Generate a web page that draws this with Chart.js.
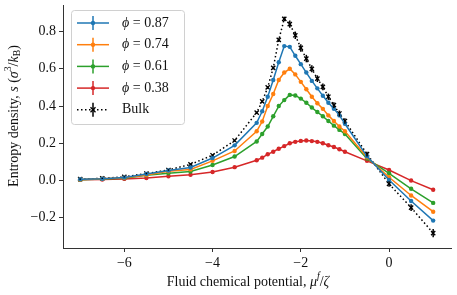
<!DOCTYPE html>
<html>
<head>
<meta charset="utf-8">
<script src="https://cdn.jsdelivr.net/npm/chart.js@4.4.0/dist/chart.umd.min.js"></script>
<style>
  html, body { margin: 0; padding: 0; background: #fff; }
  #contenedor { width: 457px; height: 295px; }
</style>
</head>
<body>
<div id="contenedor"><canvas id="grafico"></canvas></div>
<script>
// Datos
const potencial = [-7, -6.5, -6, -5.5, -5, -4.5, -4, -3.5, -3, -2.875, -2.75, -2.625, -2.5, -2.375, -2.25, -2.125,
  -2, -1.875, -1.75, -1.625, -1.5, -1.375, -1.25, -1.125, -1, -0.5, 0, 0.5, 1];

const phi087 = [0.007, 0.01, 0.017, 0.035, 0.054, 0.07, 0.121, 0.189, 0.31, 0.372, 0.45, 0.54, 0.635, 0.722, 0.718, 0.67,
  0.625, 0.58, 0.535, 0.495, 0.455, 0.418, 0.385, 0.35, 0.305, 0.13, 0.003, -0.11, -0.215];
const phi074 = [0.006, 0.01, 0.015, 0.03, 0.05, 0.06, 0.106, 0.159, 0.265, 0.317, 0.40, 0.465, 0.54, 0.58, 0.60, 0.57,
  0.53, 0.49, 0.45, 0.415, 0.385, 0.35, 0.32, 0.29, 0.265, 0.125, 0.018, -0.08, -0.167];
const phi061 = [0.005, 0.009, 0.013, 0.028, 0.039, 0.049, 0.084, 0.129, 0.21, 0.25, 0.29, 0.345, 0.40, 0.432, 0.46, 0.457,
  0.44, 0.418, 0.392, 0.368, 0.345, 0.32, 0.295, 0.272, 0.25, 0.118, 0.039, -0.044, -0.12];
const phi038 = [0.004, 0.006, 0.009, 0.014, 0.023, 0.031, 0.046, 0.072, 0.109, 0.123, 0.141, 0.155, 0.171, 0.185, 0.2, 0.208,
  0.213, 0.215, 0.212, 0.208, 0.2, 0.19, 0.18, 0.168, 0.155, 0.106, 0.057, 0.0, -0.049];
const bulk = [0.008, 0.012, 0.02, 0.038, 0.057, 0.087, 0.136, 0.215, 0.365, 0.425, 0.50, 0.605, 0.755, 0.868, 0.84, 0.78,
  0.712, 0.655, 0.60, 0.547, 0.503, 0.45, 0.405, 0.36, 0.32, 0.142, -0.018, -0.145, -0.282];
const errBulk = [0.003, 0.003, 0.003, 0.004, 0.004, 0.004, 0.005, 0.005, 0.006, 0.006, 0.007, 0.008, 0.009, 0.012, 0.02, 0.02,
  0.02, 0.02, 0.019, 0.018, 0.018, 0.017, 0.016, 0.016, 0.015, 0.013, 0.015, 0.018, 0.022];

const etiquetas = ['0.87', '0.74', '0.61', '0.38'];
const colores = ['#1f77b4', '#ff7f0e', '#2ca02c', '#d62728'];
const ticksX = [-6, -4, -2, 0];
const ticksY = [-0.2, 0, 0.2, 0.4, 0.6, 0.8];

const fuente = '"Liberation Serif", "Times New Roman", serif';
const menos = v => (v < 0 ? '\u2212' : '') + Math.abs(v);

const puntos = serie => potencial.map((x, i) => ({x: x, y: serie[i]}));

const series = [phi087, phi074, phi061, phi038].map((serie, i) => ({
  label: 'ϕ = ' + etiquetas[i],
  data: puntos(serie),
  borderColor: colores[i],
  backgroundColor: colores[i],
  borderWidth: 1.5,
  pointRadius: 2.2,
  pointHoverRadius: 2.2,
  pointBorderWidth: 0,
  showLine: true,
  tension: 0
}));

series.push({
  label: 'Bulk',
  data: puntos(bulk),
  errores: errBulk,
  borderColor: '#000',
  backgroundColor: '#000',
  borderWidth: 1.5,
  borderDash: [1.5, 2.5],
  pointStyle: 'crossRot',
  pointRadius: 3,
  pointBorderWidth: 1.3,
  showLine: true,
  tension: 0
});

// Barras de error verticales
const barrasError = {
  id: 'barrasError',
  afterDatasetsDraw(chart) {
    const ctx = chart.ctx;
    const sx = chart.scales.x, sy = chart.scales.y;
    chart.data.datasets.forEach(ds => {
      if (!ds.errores) return;
      ctx.save();
      ctx.strokeStyle = ds.borderColor;
      ctx.lineWidth = 1.5;
      ds.data.forEach((p, i) => {
        const px = sx.getPixelForValue(p.x);
        ctx.beginPath();
        ctx.moveTo(px, sy.getPixelForValue(p.y - ds.errores[i]));
        ctx.lineTo(px, sy.getPixelForValue(p.y + ds.errores[i]));
        ctx.stroke();
      });
      ctx.restore();
    });
  }
};

// Dibuja texto con partes en cursiva, superindice o subindice
function textoMixto(ctx, partes, x, y, tam) {
  let ancho = 0;
  const medidas = partes.map(p => {
    const t = p.sup || p.sub ? tam * 0.7 : tam;
    ctx.font = (p.it ? 'italic ' : '') + t + 'px ' + fuente;
    const w = ctx.measureText(p.t).width;
    ancho += w;
    return {t, w};
  });
  let cx = x - ancho / 2;
  partes.forEach((p, i) => {
    ctx.font = (p.it ? 'italic ' : '') + medidas[i].t + 'px ' + fuente;
    const dy = p.sup ? -tam * 0.38 : (p.sub ? tam * 0.22 : 0);
    ctx.fillText(p.t, cx, y + dy);
    cx += medidas[i].w;
  });
}

// Titulos de los ejes y leyenda
const titulosYLeyenda = {
  id: 'titulosYLeyenda',
  afterDraw(chart) {
    const ctx = chart.ctx;
    ctx.save();
    ctx.fillStyle = '#111';
    ctx.textBaseline = 'middle';
    ctx.textAlign = 'left';
    textoMixto(ctx, [
      {t: 'Fluid chemical potential, '}, {t: 'μ', it: true}, {t: 'f', it: true, sup: true}, {t: '/', it: false}, {t: 'ζ', it: true}
    ], 248, 282, 14);

    ctx.save();
    ctx.translate(14, 116);
    ctx.rotate(-Math.PI / 2);
    textoMixto(ctx, [
      {t: 'Entropy density, '}, {t: 's', it: true}, {t: ' ('}, {t: 'σ', it: true}, {t: '3', sup: true},
      {t: '/'}, {t: 'k', it: true}, {t: 'B', sub: true}, {t: ')'}
    ], 0, 0, 14);
    ctx.restore();

    // Leyenda
    const x0 = 71, y0 = 10, w = 113, h = 114;
    ctx.beginPath();
    ctx.roundRect(x0 + 0.5, y0 + 0.5, w, h, 3);
    ctx.fillStyle = 'rgba(255,255,255,0.8)';
    ctx.fill();
    ctx.strokeStyle = '#d0d0d0';
    ctx.lineWidth = 1;
    ctx.stroke();

    chart.data.datasets.forEach((ds, i) => {
      const yy = 23 + i * 21.7;
      ctx.strokeStyle = ds.borderColor;
      ctx.fillStyle = ds.borderColor;
      ctx.lineWidth = 1.5;
      ctx.setLineDash(ds.borderDash || []);
      ctx.beginPath();
      ctx.moveTo(77, yy);
      ctx.lineTo(109, yy);
      ctx.stroke();
      ctx.setLineDash([]);
      ctx.beginPath();
      ctx.moveTo(93, yy - 7);
      ctx.lineTo(93, yy + 7);
      ctx.stroke();
      if (ds.pointStyle === 'crossRot') {
        ctx.lineWidth = 1.3;
        ctx.beginPath();
        ctx.moveTo(90.5, yy - 2.5); ctx.lineTo(95.5, yy + 2.5);
        ctx.moveTo(95.5, yy - 2.5); ctx.lineTo(90.5, yy + 2.5);
        ctx.stroke();
        ctx.fillStyle = '#111';
        ctx.font = '14px ' + fuente;
        ctx.fillText('Bulk', 122, yy);
      } else {
        ctx.beginPath();
        ctx.arc(93, yy, 2.2, 0, Math.PI * 2);
        ctx.fill();
        ctx.fillStyle = '#111';
        ctx.font = 'italic 14px ' + fuente;
        ctx.fillText('ϕ', 122, yy);
        const wphi = ctx.measureText('ϕ').width;
        ctx.font = '14px ' + fuente;
        ctx.fillText(' = ' + etiquetas[i], 122 + wphi, yy);
      }
    });
    ctx.restore();
  }
};

document.addEventListener('DOMContentLoaded', function() {
  const ctx = document.getElementById('grafico').getContext('2d');
  new Chart(ctx, {
    type: 'scatter',
    data: {datasets: series},
    plugins: [barrasError, titulosYLeyenda],
    options: {
      responsive: true,
      maintainAspectRatio: false,
      animation: false,
      layout: {padding: {top: 3, right: 2, left: 0, bottom: 0}},
      plugins: {
        legend: {display: false},
        tooltip: {enabled: false}
      },
      scales: {
        x: {
          type: 'linear',
          min: -7.39,
          max: 1.42,
          afterBuildTicks: s => { s.ticks = ticksX.map(v => ({value: v})); },
          afterFit: s => { s.height = 47; s.paddingLeft = 0; s.paddingRight = 0; },
          grid: {drawOnChartArea: false, drawTicks: true, tickLength: 4, color: '#333'},
          border: {display: true, color: '#333', width: 1},
          ticks: {
            color: '#111',
            padding: 3,
            font: {family: fuente, size: 14},
            callback: v => menos(v)
          }
        },
        y: {
          type: 'linear',
          min: -0.362,
          max: 0.941,
          afterBuildTicks: s => { s.ticks = ticksY.map(v => ({value: v})); },
          afterFit: s => { s.width = 63; s.paddingTop = 0; s.paddingBottom = 0; },
          grid: {drawOnChartArea: false, drawTicks: true, tickLength: 4, color: '#333'},
          border: {display: true, color: '#333', width: 1},
          ticks: {
            color: '#111',
            padding: 3,
            font: {family: fuente, size: 14},
            callback: v => (v < 0 ? '\u2212' : '') + Math.abs(v).toFixed(1)
          }
        }
      }
    }
  });
});
</script>
</body>
</html>
